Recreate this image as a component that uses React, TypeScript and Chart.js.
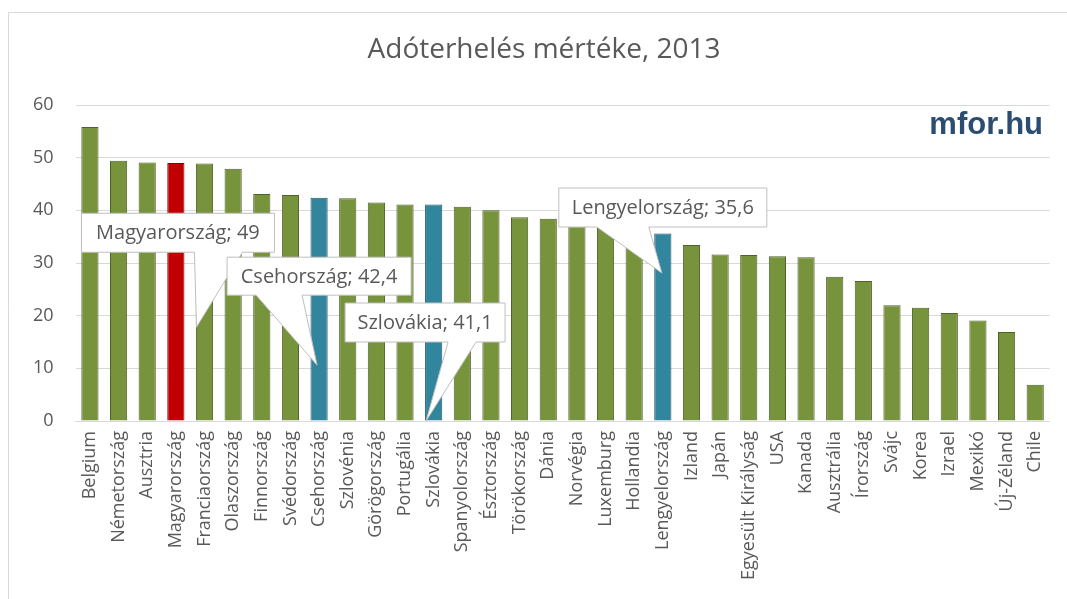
import React, { useEffect, useRef } from "react";
import { Chart, registerables } from "chart.js";

Chart.register(...registerables);

const TITLE = "Adóterhelés mértéke, 2013";
const LOGO = "mfor.hu";

const categories = [
  "Belgium", "Németország", "Ausztria", "Magyarország", "Franciaország", "Olaszország",
  "Finnország", "Svédország", "Csehország", "Szlovénia", "Görögország", "Portugália",
  "Szlovákia", "Spanyolország", "Észtország", "Törökország", "Dánia", "Norvégia",
  "Luxemburg", "Hollandia", "Lengyelország", "Izland", "Japán", "Egyesült Királyság",
  "USA", "Kanada", "Ausztrália", "Írország", "Svájc", "Korea", "Izrael", "Mexikó",
  "Új-Zéland", "Chile",
];

const values = [
  55.8, 49.4, 49.1, 49.0, 48.9, 47.9,
  43.1, 42.9, 42.4, 42.3, 41.5, 41.1,
  41.1, 40.7, 40.0, 38.7, 38.4, 37.0,
  36.7, 36.5, 35.6, 33.4, 31.6, 31.5,
  31.3, 31.1, 27.4, 26.6, 22.0, 21.5, 20.5, 19.1,
  16.9, 6.9,
];

const highlightRed = ["Magyarország"];
const highlightBlue = ["Csehország", "Szlovákia", "Lengyelország"];

const yTicks = [0, 10, 20, 30, 40, 50, 60];

// callouts: label text, category, tip value (data), plus layout offsets in px
const calloutCategories = ["Magyarország", "Csehország", "Szlovákia", "Lengyelország"];
const calloutTexts = ["Magyarország; 49", "Csehország; 42,4", "Szlovákia; 41,1", "Lengyelország; 35,6"];
const calloutTipValues = [17.8, 10.6, 0, 28.1];
const calloutLayout = [
  { tipDx: 20.6, left: -115, top: -114, w: 193, h: 39, b0: -2, b1: 46 },
  { tipDx: -2, left: -90, top: -108, w: 184, h: 38, b0: -61, b1: -15 },
  { tipDx: -7.6, left: -81, top: -118, w: 160, h: 39, b0: 22, b1: 50 },
  { tipDx: -1, left: -103, top: -85, w: 208, h: 39, b0: -65, b1: -13 },
];

const GREEN = "#77933C";
const GREEN_B = "#4F6228";
const RED = "#C00000";
const RED_B = "#7F0000";
const BLUE = "#31859C";
const BLUE_B = "#215968";
const TEXT = "#595959";
const FONT = "'Open Sans', sans-serif";

const decorPlugin = {
  id: "decor",
  beforeDraw(chart: any) {
    const ctx = chart.ctx;
    ctx.save();
    ctx.fillStyle = "#ffffff";
    ctx.fillRect(0, 0, chart.width, chart.height);
    ctx.strokeStyle = "#D9D9D9";
    ctx.lineWidth = 1;
    ctx.beginPath();
    ctx.moveTo(8.5, chart.height);
    ctx.lineTo(8.5, 12.5);
    ctx.lineTo(chart.width, 12.5);
    ctx.stroke();
    ctx.fillStyle = TEXT;
    ctx.font = `28px ${FONT}`;
    ctx.textAlign = "center";
    ctx.textBaseline = "middle";
    ctx.fillText(TITLE, 544, 50);
    ctx.restore();
  },
  afterDatasetsDraw(chart: any) {
    const ctx = chart.ctx;
    const xs = chart.scales.x;
    const ys = chart.scales.y;
    ctx.save();
    // logo
    ctx.fillStyle = "#2B4D72";
    ctx.font = `bold 31px 'Liberation Sans', Arial, sans-serif`;
    ctx.textAlign = "right";
    ctx.textBaseline = "alphabetic";
    ctx.fillText(LOGO, 1043, 134);

    calloutCategories.forEach((cat, i) => {
      const idx = categories.indexOf(cat);
      const L = calloutLayout[i];
      const tx = xs.getPixelForValue(idx) + L.tipDx;
      const ty = ys.getPixelForValue(calloutTipValues[i]);
      const x0 = tx + L.left;
      const y0 = ty + L.top;
      const x1 = x0 + L.w;
      const y1 = y0 + L.h;
      ctx.beginPath();
      ctx.moveTo(x0, y0);
      ctx.lineTo(x1, y0);
      ctx.lineTo(x1, y1);
      ctx.lineTo(tx + L.b1, y1);
      ctx.lineTo(tx, ty);
      ctx.lineTo(tx + L.b0, y1);
      ctx.lineTo(x0, y1);
      ctx.closePath();
      ctx.fillStyle = "#ffffff";
      ctx.fill();
      ctx.strokeStyle = "#BFBFBF";
      ctx.lineWidth = 1;
      ctx.stroke();
      ctx.fillStyle = TEXT;
      ctx.font = `20px ${FONT}`;
      ctx.textAlign = "center";
      ctx.textBaseline = "middle";
      ctx.fillText(calloutTexts[i], (x0 + x1) / 2, (y0 + y1) / 2 + 1);
    });
    ctx.restore();
  },
};

export default function App() {
  const ref = useRef<HTMLCanvasElement>(null);
  useEffect(() => {
    if (!ref.current) return;
    const bg = categories.map((c) =>
      highlightRed.includes(c) ? RED : highlightBlue.includes(c) ? BLUE : GREEN
    );
    const bc = categories.map((c) =>
      highlightRed.includes(c) ? RED_B : highlightBlue.includes(c) ? BLUE_B : GREEN_B
    );
    const chart = new Chart(ref.current, {
      type: "bar",
      data: {
        labels: categories,
        datasets: [
          {
            data: values,
            backgroundColor: bg,
            borderColor: bc,
            borderWidth: 1,
            categoryPercentage: 1,
            barPercentage: 0.6,
          },
        ],
      },
      options: {
        responsive: false,
        animation: false,
        layout: { padding: { top: 105, right: 12.6, left: 0, bottom: 0 } },
        plugins: {
          legend: { display: false },
          title: { display: false },
          tooltip: { enabled: false },
        },
        scales: {
          x: {
            grid: { display: false, drawTicks: false },
            border: { display: true, color: "#D9D9D9" },
            ticks: {
              color: TEXT,
              font: { family: FONT, size: 18 },
              minRotation: 90,
              maxRotation: 90,
              padding: 10,
              autoSkip: false,
            },
            afterFit(scale: any) {
              scale.height = 178;
            },
          },
          y: {
            min: 0,
            max: 60,
            afterBuildTicks(scale: any) {
              scale.ticks = yTicks.map((v) => ({ value: v }));
            },
            grid: { color: "#D9D9D9", drawTicks: false },
            border: { display: false },
            ticks: {
              color: TEXT,
              font: { family: FONT, size: 18 },
              padding: 22,
            },
            afterFit(scale: any) {
              scale.width = 75.6;
            },
          },
        },
      },
      plugins: [decorPlugin],
    });
    return () => chart.destroy();
  }, []);
  return (
    <div style={{ position: "fixed", left: 0, top: 0, width: 1067, height: 599, background: "#fff" }}>
      <canvas ref={ref} width={1067} height={599} style={{ width: 1067, height: 599, display: "block" }} />
    </div>
  );
}
